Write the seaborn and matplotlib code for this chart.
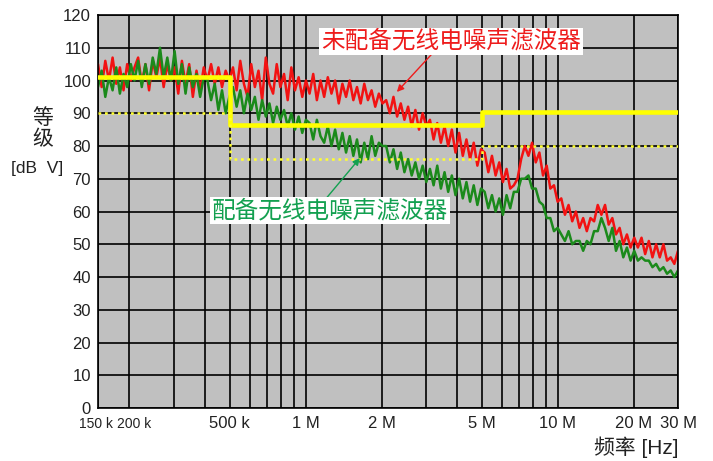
import numpy as np
import pandas as pd
import matplotlib
matplotlib.use("Agg")
import matplotlib.pyplot as plt
from matplotlib.transforms import ScaledTranslation
import seaborn as sns

# Conducted emission sweep, 150 kHz .. 30 MHz (160 log-spaced receiver points)
n_points = 160
freq_start, freq_stop = 150e3, 30e6

# Level of the unit without the radio-noise filter [dBuV]
level_unfiltered = [
    105, 98, 106, 100, 107, 99, 104, 97, 105, 100,
    104, 107, 99, 105, 97, 106, 101, 107, 98, 105, 100,
    104, 96, 106, 99, 105, 95, 103, 97, 104,
    100, 105, 99, 104, 98, 103, 100,
    104, 97, 106, 99, 95, 105, 98, 103, 94, 107, 99, 96, 105, 98, 102, 94, 104, 97, 101, 95, 100,
    96, 102, 94, 100, 95, 101, 96, 100, 93, 99, 95, 100, 94, 98, 93, 99, 94, 97, 92, 96, 93,
    94, 90, 95, 89, 93, 88, 92, 86, 91, 85, 90, 86,
    88, 82, 87, 81, 86, 80, 85, 78, 84, 77, 82, 76, 81, 74, 79,
    78, 72, 77, 71, 75, 69, 73, 67, 68, 70, 76, 80,
    77, 81, 75, 78, 71, 74, 67, 68, 63,
    64, 59, 62, 57, 60, 55, 58, 54, 58, 57, 62, 59,
    62, 56, 58, 53, 55, 50, 53, 49, 52,
    49, 52, 47, 51, 46, 50, 46, 50, 45, 46, 44, 48,
]

# Level of the unit with the radio-noise filter fitted [dBuV]
level_filtered = [
    98, 103, 95, 101, 97, 104, 96, 102, 98, 105,
    100, 106, 98, 105, 99, 107, 102, 110, 101, 107, 100,
    109, 99, 105, 96, 104, 98, 102, 95, 101,
    100, 94, 99, 91, 97, 90, 95,
    98, 92, 97, 90, 96, 91, 95, 88, 94, 89, 93, 87, 92, 88, 91, 86, 90, 85, 89, 84, 88,
    87, 82, 88, 83, 81, 86, 80, 85, 79, 84, 78, 83, 77, 82, 75, 81, 76, 83, 77, 81, 80,
    80, 75, 79, 73, 78, 72, 76, 71, 75, 70, 74, 69,
    73, 68, 74, 67, 72, 66, 71, 65, 70, 64, 69, 63, 68, 62, 67,
    66, 61, 65, 60, 64, 59, 65, 61, 66, 66, 70, 70,
    71, 67, 67, 63, 62, 58, 58, 54, 55,
    53, 51, 54, 50, 51, 51, 48, 51, 50, 54, 54, 58,
    55, 51, 55, 48, 51, 46, 49, 45, 48,
    45, 46, 45, 45, 43, 44, 42, 43, 41, 42, 40, 42,
]

# Limit lines (quasi-peak solid, average dotted)
qp_freq = [150e3, 500e3, 500e3, 5e6, 5e6, 30e6]
qp_level = [101, 101, 86.5, 86.5, 90.5, 90.5]
avg_freq = [150e3, 500e3, 500e3, 5e6, 5e6, 30e6]
avg_level = [90, 90, 76, 76, 80, 80]

# Axis ticks
xtick_freq = [150e3, 200e3, 500e3, 1e6, 2e6, 5e6, 10e6, 20e6, 30e6]
xtick_labels = ["150 k", "200 k", "500 k", "1 M", "2 M", "5 M", "10 M", "20 M", "30 M"]
xgrid_minor = [300e3, 400e3, 600e3, 700e3, 800e3, 900e3,
               3e6, 4e6, 6e6, 7e6, 8e6, 9e6]
ytick_values = list(range(0, 121, 10))

label_unfiltered = "未配备无线电噪声滤波器"
label_filtered = "配备无线电噪声滤波器"

sns.set_style("white")
plt.rcParams["font.family"] = ["Liberation Sans", "Noto Sans CJK SC"]

W, H = 713, 461
fig = plt.figure(figsize=(W / 100, H / 100), dpi=100)
ax = fig.add_axes([98 / W, 1 - 408 / H, 580 / W, 393 / H])
ax.set_facecolor("#c0c0c0")
ax.set_xscale("log")

freq = np.geomspace(freq_start, freq_stop, n_points)
spectra = pd.DataFrame({
    "freq": np.concatenate([freq, freq]),
    "level": level_unfiltered + level_filtered,
    "trace": [label_unfiltered] * n_points + [label_filtered] * n_points,
})
sns.lineplot(data=spectra, x="freq", y="level", hue="trace",
             hue_order=[label_unfiltered, label_filtered],
             palette={label_unfiltered: "#f21212", label_filtered: "#1b8a1b"},
             estimator=None, sort=False, linewidth=1.8, legend=False,
             ax=ax, zorder=2)

sns.lineplot(x=qp_freq, y=qp_level, estimator=None, sort=False,
             color="#ffff00", linewidth=3.3, ax=ax, zorder=4)
sns.lineplot(x=avg_freq, y=avg_level, estimator=None, sort=False,
             color="#ffff30", linewidth=1.8, linestyle=(0, (1.1, 1.5)),
             ax=ax, zorder=4)

ax.set_xlim(freq_start, freq_stop)
ax.set_ylim(0, 120)
ax.set_xticks(xtick_freq)
ax.set_xticklabels(xtick_labels)
ax.set_xticks(xgrid_minor, minor=True)
ax.set_xticklabels([""] * len(xgrid_minor), minor=True)
ax.set_yticks(ytick_values)
ax.set_yticklabels([str(v) for v in ytick_values])
ax.grid(True, which="both", color="black", linewidth=1.2)
ax.tick_params(which="both", length=0)
ax.tick_params(axis="y", pad=5, labelsize=12, labelcolor="#222222")
ax.tick_params(axis="x", pad=6, labelsize=12, labelcolor="#222222")
# the two crowded labels at the low end are set smaller and nudged apart
xlabels = ax.get_xticklabels()
xlabels[0].set_fontsize(10)
xlabels[1].set_fontsize(10)
xlabels[0].set_transform(xlabels[0].get_transform()
                         + ScaledTranslation(-2 / 100, -1 / 100, fig.dpi_scale_trans))
xlabels[1].set_transform(xlabels[1].get_transform()
                         + ScaledTranslation(5 / 100, -1 / 100, fig.dpi_scale_trans))
for s in ax.spines.values():
    s.set_color("black")
    s.set_linewidth(1.2)
ax.set_xlabel("")
ax.set_ylabel("")

# Axis titles
fig.text(678 / W, 1 - 447 / H, "频率 [Hz]", ha="right", va="center",
         fontsize=15, color="#222222")
fig.text(43 / W, 1 - 118 / H, "等", ha="center", va="center",
         fontsize=15, color="#222222")
fig.text(43 / W, 1 - 140 / H, "级", ha="center", va="center",
         fontsize=15, color="#222222")
fig.text(37 / W, 1 - 168 / H, "[dB  V]", ha="center", va="center",
         fontsize=12.5, color="#222222")

# Callouts
box = dict(boxstyle="square,pad=0.08", facecolor="white", edgecolor="none")
ax.annotate(label_unfiltered, xy=(2.3e6, 96.5), xytext=(3.78e6, 112),
            ha="center", va="center", fontsize=17, color="#ee1c1c",
            family="Noto Sans CJK SC", bbox=box, zorder=6,
            arrowprops=dict(arrowstyle="-|>", color="#ee1c1c", lw=1.0,
                            mutation_scale=10, shrinkA=0, shrinkB=0,
                            relpos=(0.43, 0.0)))
ax.annotate(label_filtered, xy=(1.64e6, 76.3), xytext=(1.25e6, 60.2),
            ha="center", va="center", fontsize=17, color="#13a050",
            family="Noto Sans CJK SC", bbox=box, zorder=6,
            arrowprops=dict(arrowstyle="-|>", color="#13a050", lw=1.0,
                            mutation_scale=10, shrinkA=0, shrinkB=0,
                            relpos=(0.48, 1.0)))

fig.savefig("out.png", dpi=100)
